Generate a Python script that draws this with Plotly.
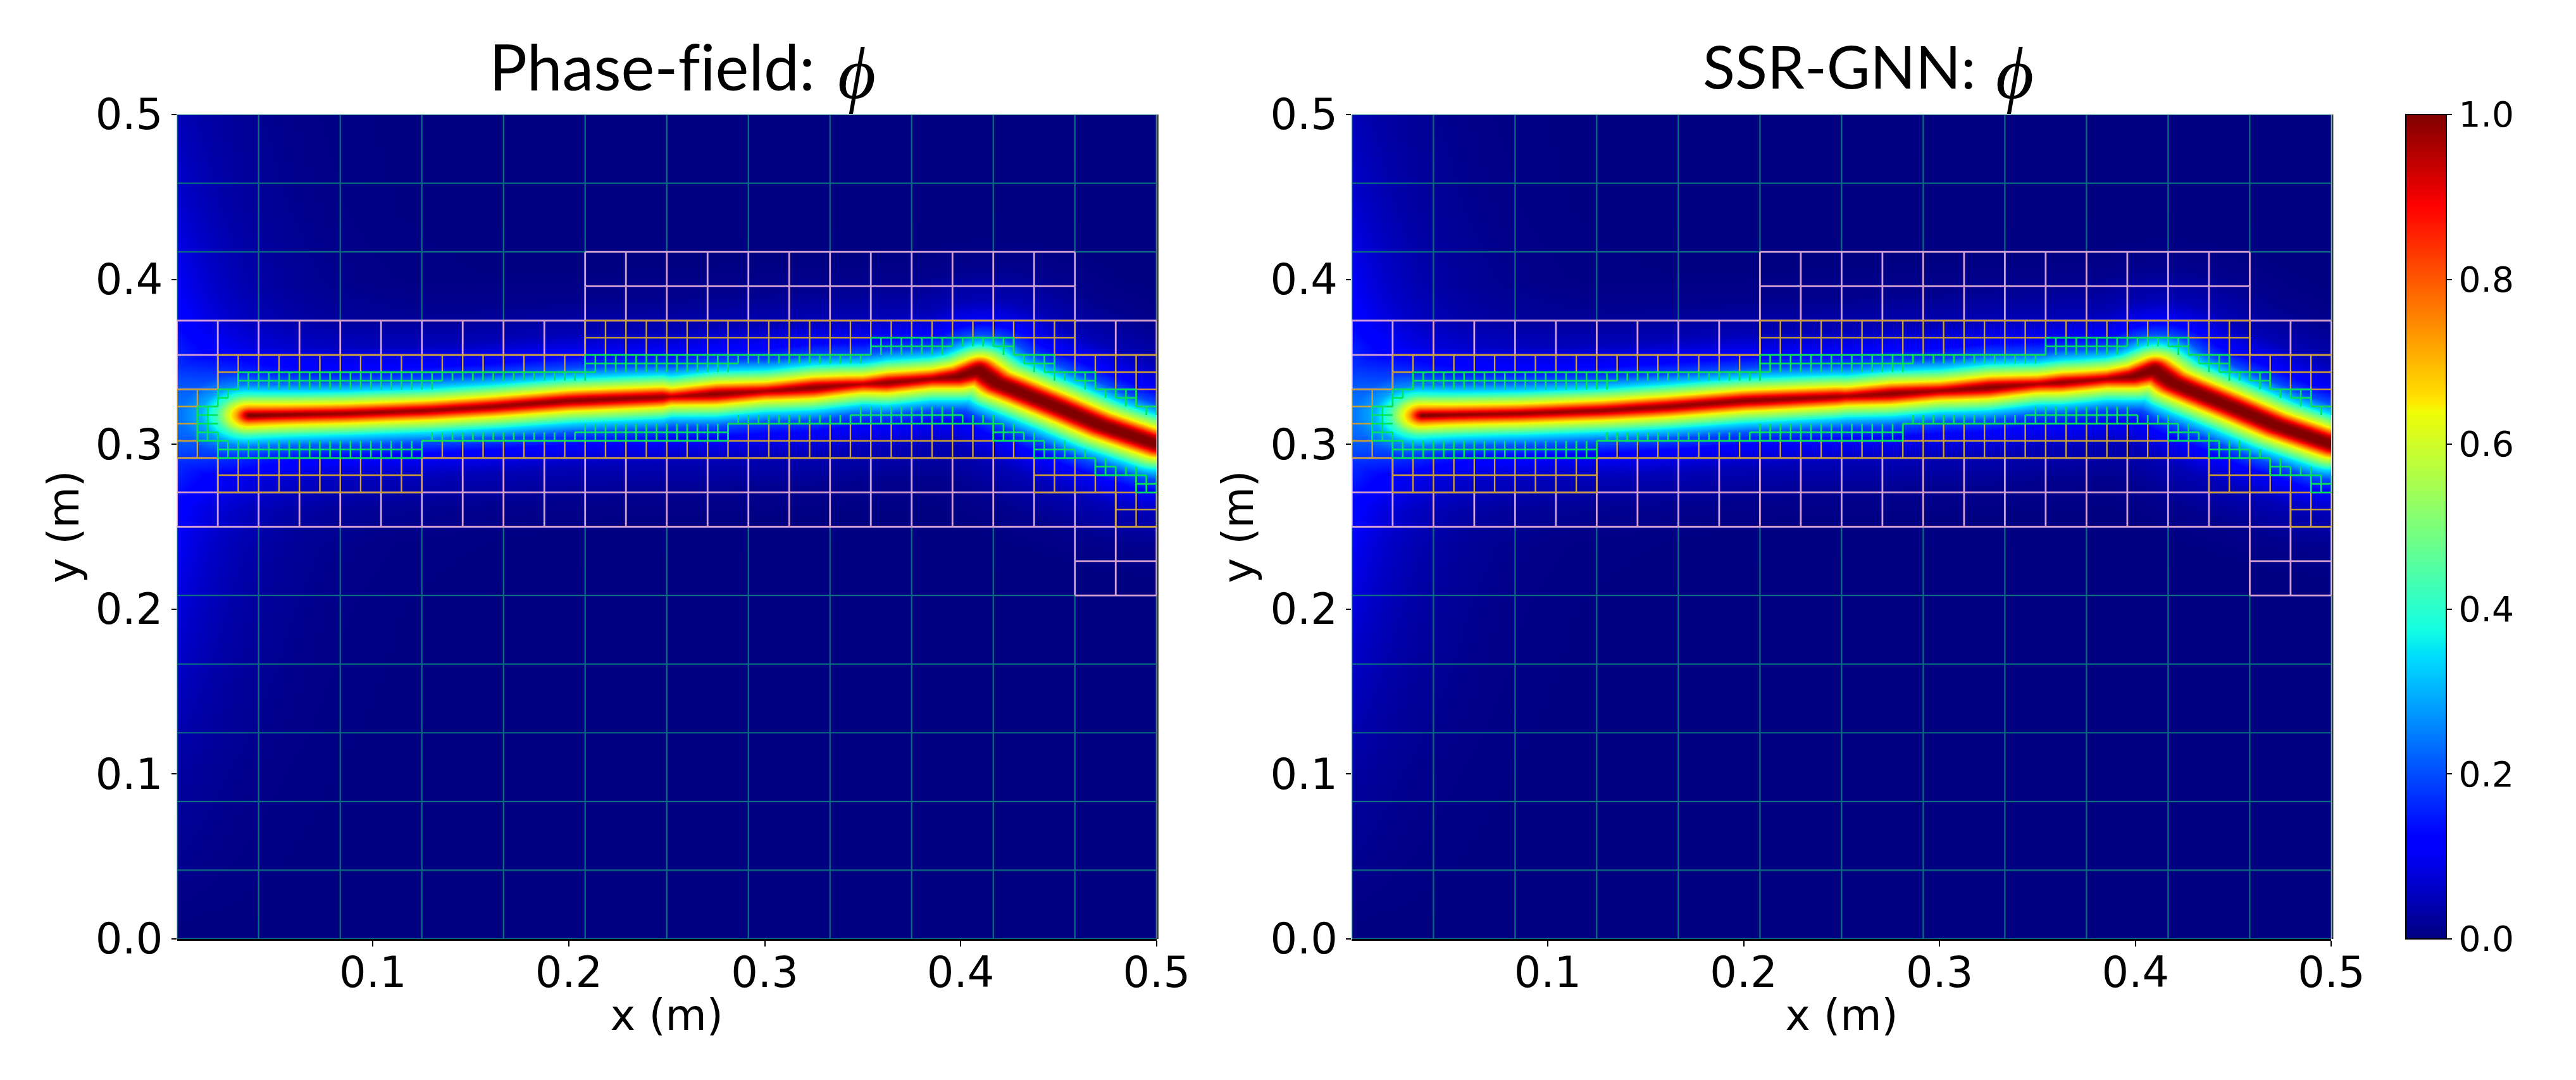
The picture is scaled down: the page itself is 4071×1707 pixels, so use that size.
import numpy as np
import plotly.graph_objects as go

W, H = 4071, 1707
M_L, M_R, M_T, M_B = 40, 60, 60, 150
IN_W, IN_H = W - M_L - M_R, H - M_T - M_B
PLOT_L = (280, 1830)
PLOT_R = (2139, 3689)
PLOT_Y = (181, 1484)
CBAR_X = 3807

TITLES = ["Phase-field:", "SSR-GNN:"]
X_TICKS = [0.1, 0.2, 0.3, 0.4, 0.5]
Y_TICKS = [0.0, 0.1, 0.2, 0.3, 0.4, 0.5]
CB_TICKS = [0.0, 0.2, 0.4, 0.6, 0.8, 1.0]

# crack centre-line (m)
PATH_X_A = [0.0368, 0.0863, 0.1293, 0.1616, 0.2000, 0.2538, 0.3075, 0.3423, 0.3613, 0.3745, 0.3981, 0.4090, 0.4185, 0.4282, 0.4497, 0.4712, 0.5000]
PATH_Y_A = [0.3175, 0.3187, 0.3206, 0.3229, 0.3264, 0.3290, 0.3328, 0.3360, 0.3373, 0.3386, 0.3411, 0.3450, 0.3372, 0.3328, 0.3225, 0.3117, 0.3002]
PATH_X_B = [0.0358, 0.0863, 0.1293, 0.1616, 0.2000, 0.2538, 0.3075, 0.3423, 0.3613, 0.3745, 0.3981, 0.4095, 0.4190, 0.4282, 0.4497, 0.4712, 0.5000]
PATH_Y_B = [0.3175, 0.3187, 0.3206, 0.3229, 0.3264, 0.3292, 0.3330, 0.3360, 0.3375, 0.3386, 0.3411, 0.3452, 0.3374, 0.3328, 0.3225, 0.3117, 0.3002]

# phi against distance from the crack
PROFILE_D = [0.0, 0.0018, 0.0032, 0.0045, 0.0066, 0.0105, 0.0140, 0.0200, 0.0280, 0.0410, 0.0600, 0.0800, 0.1200, 1.0]
PROFILE_PHI = [1.0, 0.95, 0.87, 0.78, 0.65, 0.50, 0.35, 0.20, 0.11, 0.045, 0.012, 0.002, 0.0, 0.0]

# offset of the band core along x: negative = wider core, positive = paler core
CORE_X = [0.0, 0.05, 0.10, 0.15, 0.21, 0.248, 0.252, 0.275, 0.30, 0.325, 0.35, 0.362, 0.385, 0.41, 0.5]
CORE_A = [0.0012, 0.0012, 0.0010, 0.0008, 0.0004, 0.0006, 0.0016, 0.0002, 0.0012, 0.0002, 0.0016, 0.0004, 0.0010, -0.0016, -0.0016]
CORE_B = [0.0014, 0.0014, 0.0010, 0.0006, 0.0004, 0.0008, 0.0012, 0.0002, 0.0010, 0.0000, 0.0014, 0.0006, 0.0012, -0.0016, -0.0016]

# glow along the left edge
EDGE_Y = [0.0, 0.1, 0.2, 0.25, 0.32, 0.375, 0.45, 0.5]
EDGE_PHI = [0.0, 0.03, 0.08, 0.11, 0.14, 0.12, 0.07, 0.05]

# mesh patches in units of the finest visible cell, 1/192 m: i0, i1, j0, j1
PINK_PATCHES = [(0, 40, 48, 72), (40, 88, 48, 80), (88, 96, 40, 72)]
ORANGE_PATCHES = [(0, 4, 56, 64), (4, 24, 52, 68), (24, 40, 56, 68), (40, 84, 56, 72),
                  (84, 88, 52, 72), (88, 92, 52, 68), (92, 96, 48, 68)]
# column runs of the finest cells: first col, last col, first row, end row
GREEN_CAP = [(2, 3, 58, 62)]
GREEN_LOWER = [(4, 23, 56, 58), (24, 38, 58, 59), (39, 53, 58, 60), (54, 65, 60, 61), (66, 76, 60, 62),
               (77, 79, 60, 61), (80, 80, 58, 61), (81, 82, 58, 60), (83, 83, 58, 59), (84, 84, 56, 59),
               (85, 87, 56, 58), (88, 89, 56, 57), (90, 91, 54, 56), (92, 93, 54, 55), (94, 94, 52, 55),
               (95, 95, 52, 54)]
GREEN_UPPER = [(4, 4, 62, 64), (5, 5, 63, 64), (6, 25, 64, 66), (26, 39, 65, 66), (40, 40, 65, 68),
               (41, 54, 66, 68), (55, 67, 67, 68), (68, 75, 68, 70), (76, 79, 69, 70), (80, 81, 68, 70),
               (82, 82, 67, 68), (83, 84, 66, 68), (85, 85, 65, 68), (86, 87, 65, 66), (88, 89, 64, 66),
               (90, 91, 63, 64), (92, 93, 62, 64), (94, 95, 61, 62)]
NEUTRAL_CELLS = [(4, 58)]

UNIT = 1 / 192
TEAL, PINK, ORANGE, GREEN = "#0B6C80", "#D3A0D3", "#CBA032", "#00E45A"


def px_x(p):
    return (p - M_L) / IN_W


def px_y(p):
    return 1 - (p - M_T) / IN_H


def expand(runs):
    return {(c, r) for c0, c1, r0, r1 in runs for c in range(c0, c1 + 1) for r in range(r0, r1)}


green = expand(GREEN_CAP) | expand(GREEN_LOWER) | expand(GREEN_UPPER)
low_end = {c: r1 for c0, c1, r0, r1 in GREEN_LOWER for c in range(c0, c1 + 1)}
up_start = {c: r0 for c0, c1, r0, r1 in GREEN_UPPER for c in range(c0, c1 + 1)}
hidden = {(c, r) for c in low_end for r in range(low_end[c], up_start[c])} - set(NEUTRAL_CELLS)
fine = green | hidden


def patch_cells(patches, size):
    out = set()
    for i0, i1, j0, j1 in patches:
        for i in range(i0, i1, size):
            for j in range(j0, j1, size):
                out.add((i, j))
    return out


def covered(cell, size, mask):
    return any((cell[0] + a, cell[1] + b) in mask for a in range(size) for b in range(size))


def level_lines(cells, size):
    segs = set()
    for i, j in cells:
        segs |= {(i, j, i + size, j), (i, j + size, i + size, j + size), (i, j, i, j + size), (i + size, j, i + size, j + size)}
    return segs


def to_xy(segs):
    xs, ys = [], []
    for a, b, c, d in sorted(segs):
        xs += [a * UNIT, c * UNIT, None]
        ys += [b * UNIT, d * UNIT, None]
    return xs, ys


# green level: an edge touching the hidden core is not drawn
green_segs = set()
for i, j in green:
    for seg, nb in (((i, j, i + 1, j), (i, j - 1)), ((i, j + 1, i + 1, j + 1), (i, j + 1)),
                    ((i, j, i, j + 1), (i - 1, j)), ((i + 1, j, i + 1, j + 1), (i + 1, j))):
        if nb not in hidden:
            green_segs.add(seg)

pink_mask = {(i, j) for i0, i1, j0, j1 in PINK_PATCHES for i in range(i0, i1) for j in range(j0, j1)}
orange_mask = {(i, j) for i0, i1, j0, j1 in ORANGE_PATCHES for i in range(i0, i1) for j in range(j0, j1)}

orange_cells = {c for c in patch_cells(ORANGE_PATCHES, 2) if not covered(c, 2, fine)}
pink_cells = {c for c in patch_cells(PINK_PATCHES, 4) if not covered(c, 4, orange_mask)}
teal_cells = {c for c in patch_cells([(0, 96, 0, 96)], 8) if not covered(c, 8, pink_mask)}
MESH = [(to_xy(level_lines(teal_cells, 8)), TEAL, 2.2),
        (to_xy(level_lines(pink_cells, 4)), PINK, 2.8),
        (to_xy(level_lines(orange_cells, 2)), ORANGE, 2.4),
        (to_xy(green_segs), GREEN, 2.6)]

gx = np.linspace(0, 0.5, 776)
gy = np.linspace(0, 0.5, 652)
GX, GY = np.meshgrid(gx, gy)
X_STRETCH = 1.3


def field(px, py, core):
    best = np.full(GX.shape, np.inf)
    px = np.array(px) / X_STRETCH
    py = np.array(py)
    qx = GX / X_STRETCH
    for k in range(len(px) - 1):
        dx, dy = px[k + 1] - px[k], py[k + 1] - py[k]
        t = np.clip(((qx - px[k]) * dx + (GY - py[k]) * dy) / (dx * dx + dy * dy), 0, 1)
        best = np.minimum(best, np.hypot(qx - px[k] - t * dx, GY - py[k] - t * dy))
    d = np.maximum(best + np.interp(GX, CORE_X, core), 0)
    phi = np.interp(d, PROFILE_D, PROFILE_PHI)
    glow = np.interp(GY, EDGE_Y, EDGE_PHI) * np.exp(-GX / 0.035)
    return np.clip(phi + glow, 0, 1).astype("float32")


JET = [[0.0, "rgb(0,0,128)"], [0.11, "rgb(0,0,255)"], [0.125, "rgb(0,0,255)"], [0.34, "rgb(0,219,255)"],
       [0.35, "rgb(0,229,247)"], [0.375, "rgb(20,255,226)"], [0.5, "rgb(124,255,122)"], [0.64, "rgb(241,252,6)"],
       [0.65, "rgb(255,234,0)"], [0.66, "rgb(255,222,0)"], [0.89, "rgb(255,0,0)"], [0.91, "rgb(228,0,0)"],
       [1.0, "rgb(128,0,0)"]]

fig = go.Figure()
panels = [(field(PATH_X_A, PATH_Y_A, CORE_A), "x", "y"), (field(PATH_X_B, PATH_Y_B, CORE_B), "x2", "y2")]
for z, xa, ya in panels:
    fig.add_trace(go.Heatmap(x=gx, y=gy, z=z, coloraxis="coloraxis", zsmooth="best", xaxis=xa, yaxis=ya, hoverinfo="skip"))
    for (xs, ys), col, lw in MESH:
        fig.add_trace(go.Scatter(x=xs, y=ys, mode="lines", line=dict(color=col, width=lw), xaxis=xa, yaxis=ya,
                                 cliponaxis=False, hoverinfo="skip", showlegend=False))

TICK_FONT = dict(family="DejaVu Sans", size=67, color="black")
LABEL_FONT = dict(family="DejaVu Sans", size=67, color="black")
ydom = [px_y(PLOT_Y[1]), px_y(PLOT_Y[0])]


def xaxis(dom):
    return dict(domain=[px_x(dom[0]), px_x(dom[1])], range=[0, 0.5], tickmode="array", tickvals=X_TICKS,
                ticktext=[f"{v:.1f}" for v in X_TICKS], ticks="outside", ticklen=9, tickwidth=2, tickcolor="black",
                ticklabelstandoff=-16,
                tickfont=TICK_FONT, showgrid=False, zeroline=False, showline=True, linecolor="black", linewidth=3,
                title=dict(text="x (m)", font=LABEL_FONT, standoff=6))


def yaxis(anchor):
    return dict(domain=ydom, range=[0, 0.5], anchor=anchor, tickmode="array", tickvals=Y_TICKS,
                ticktext=[f"{v:.1f}" for v in Y_TICKS], ticks="outside", ticklen=8, tickwidth=2, tickcolor="black",
                tickfont=TICK_FONT, showgrid=False, zeroline=False, showline=False,
                title=dict(text="y (m)", font=LABEL_FONT, standoff=4))


def label(text, px, py, family, size):
    return dict(text=text, x=px_x(px), y=px_y(py), xref="paper", yref="paper", xanchor="left", yanchor="middle",
                showarrow=False, font=dict(family=family, size=size, color="black"))


NOLIG = '<span style="font-variant-ligatures:none">%s</span>'
fig.update_layout(
    width=W, height=H, autosize=False, margin=dict(l=M_L, r=M_R, t=M_T, b=M_B),
    paper_bgcolor="white", plot_bgcolor="white", showlegend=False,
    xaxis=dict(xaxis(PLOT_L), anchor="y"), yaxis=yaxis("x"),
    xaxis2=dict(xaxis(PLOT_R), anchor="y2"), yaxis2=yaxis("x2"),
    coloraxis=dict(colorscale=JET, cmin=0, cmax=1, colorbar=dict(
        x=px_x(CBAR_X), xanchor="left", xpad=0, y=ydom[1], yanchor="top", ypad=0,
        thickness=64, thicknessmode="pixels", len=PLOT_Y[1] - PLOT_Y[0], lenmode="pixels",
        outlinecolor="black", outlinewidth=2, ticks="outside", ticklen=8, tickwidth=2, tickcolor="black",
        tickmode="array", tickvals=CB_TICKS, ticktext=[f"{v:.1f}" for v in CB_TICKS],
        tickfont=dict(family="DejaVu Sans", size=55, color="black"))),
    annotations=[
        label(NOLIG % TITLES[0], 772, 104, "Lato", 100),
        label("<i>\u03d5</i>", 1324, 116, "Liberation Serif", 116),
        label(TITLES[1], 2692, 104, "Lato", 94),
        label("<i>\u03d5</i>", 3156, 116, "Liberation Serif", 116),
    ],
    shapes=[dict(type="line", xref="paper", yref="paper", x0=px_x(p[1] + 2), x1=px_x(p[1] + 2), y0=ydom[0], y1=ydom[1],
                 line=dict(color="#202020", width=2)) for p in (PLOT_L, PLOT_R)],
)

fig.write_html("out.html", post_script="document.body.style.margin='0';", config={"displayModeBar": False})
